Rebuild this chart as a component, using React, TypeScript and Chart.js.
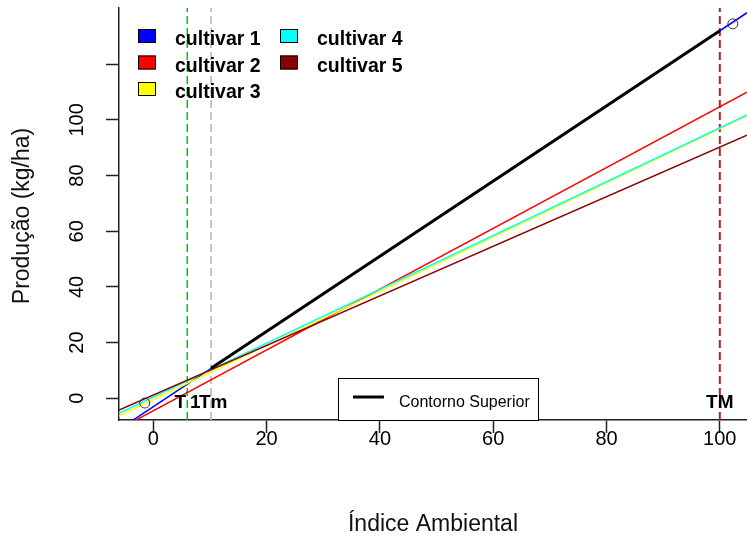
import React, { useEffect, useRef } from "react";
import { Chart, registerables } from "chart.js";

Chart.register(...registerables);

// ---- data ----
const xRange = [-6.05, 104.8];
const yRange = [-7.8, 140.2];
const xTicks = [0, 20, 40, 60, 80, 100];
const xTickLabels = ["0", "20", "40", "60", "80", "100"];
const yTicks = [0, 20, 40, 60, 80, 100, 120];
const yTickLabels = ["0", "20", "40", "60", "80", "100", ""];

const cultivarNames = ["cultivar 1", "cultivar 2", "cultivar 3", "cultivar 4", "cultivar 5"];
const cultivarColors = ["#0000FF", "#FF0000", "#FFFF00", "#00FFFF", "#8B0000"];
// each line given by its values at the two x ends of the plot
const lineX = [-6.05, 104.8];
const cultivar1 = [-11.2, 138.5];
const cultivar2 = [-11.1, 110.0];
const cultivar3 = [-6.4, 101.5];
const cultivar4 = [-5.4, 101.8];
const cultivar5 = [-4.2, 94.5];
const cultivarValues = [cultivar1, cultivar2, cultivar3, cultivar4, cultivar5];

const contornoLabel = "Contorno Superior";
const contornoX = [10.2, 100];
const contornoY = [10.8, 132];

const circleX = [-1.5, 102.3];
const circleY = [-1.7, 134.5];

const vlineX = [6.0, 10.2, 100];
const vlineColors = ["#00C800", "#B4B4B4", "#B22222"];
const vlineWidths = [1.5, 1.5, 2];

const markLabels = ["T", "1", "Tm", "TM"];
const markLabelX = [4.75, 6.48, 8.06, 100];
const markLabelAlign = ["center", "left", "left", "center"];
const markLabelY = -3.5;

const xTitle = "Índice Ambiental";
const yTitle = "Produção (kg/ha)";

const FONT = '"Liberation Sans", Arial, Helvetica, sans-serif';

const customDraw = {
  id: "customDraw",
  afterDatasetsDraw(chart: any) {
    const ctx = chart.ctx;
    const xs = chart.scales.x;
    const ys = chart.scales.y;
    ctx.save();
    ctx.fillStyle = "#000";
    ctx.font = `bold 19px ${FONT}`;
    ctx.textBaseline = "alphabetic";
    markLabels.forEach((t, i) => {
      ctx.textAlign = markLabelAlign[i];
      ctx.fillText(t, xs.getPixelForValue(markLabelX[i]), ys.getPixelForValue(markLabelY));
    });
    ctx.restore();
  },
  afterDraw(chart: any) {
    const ctx = chart.ctx;
    const xs = chart.scales.x;
    const ys = chart.scales.y;
    const a = chart.chartArea;
    ctx.save();
    ctx.fillStyle = "#000";
    // x tick labels
    ctx.font = `20px ${FONT}`;
    ctx.textAlign = "center";
    ctx.textBaseline = "alphabetic";
    xTicks.forEach((v, i) => {
      ctx.fillText(xTickLabels[i], xs.getPixelForValue(v), a.bottom + 25);
    });
    // y tick labels (rotated)
    yTicks.forEach((v, i) => {
      if (!yTickLabels[i]) return;
      ctx.save();
      ctx.translate(a.left - 36, ys.getPixelForValue(v));
      ctx.rotate(-Math.PI / 2);
      ctx.textAlign = "center";
      ctx.fillText(yTickLabels[i], 0, 0);
      ctx.restore();
    });
    // axis titles
    ctx.font = `23px ${FONT}`;
    ctx.fillStyle = "#111";
    ctx.textAlign = "center";
    ctx.fillText(xTitle, (a.left + a.right) / 2, a.bottom + 111);
    ctx.save();
    ctx.translate(a.left - 90, (a.top + a.bottom) / 2 + 2);
    ctx.rotate(-Math.PI / 2);
    ctx.fillText(yTitle, 0, 0);
    ctx.restore();

    // cultivar legend (column-major, 3 rows)
    ctx.font = `bold 19.5px ${FONT}`;
    ctx.textAlign = "left";
    const boxX = [a.left + 19, a.left + 161];
    const textX = [a.left + 56, a.left + 198];
    const rowY = [a.top + 28, a.top + 54.5, a.top + 81];
    cultivarNames.forEach((name, i) => {
      const col = Math.floor(i / 3);
      const row = i % 3;
      const cy = rowY[row];
      ctx.fillStyle = cultivarColors[i];
      ctx.fillRect(boxX[col], cy - 7, 17.5, 14);
      ctx.strokeStyle = "#000";
      ctx.lineWidth = 1;
      ctx.strokeRect(boxX[col] + 0.5, cy - 6.5, 17, 13);
      ctx.fillStyle = "#000";
      ctx.fillText(name, textX[col], cy + 9);
    });

    // contorno legend box
    const bx = xs.getPixelForValue(32.6);
    const bw = 200;
    const bt = a.bottom - 42;
    ctx.fillStyle = "#fff";
    ctx.fillRect(Math.round(bx) + 0.5, bt + 0.5, bw, a.bottom - bt);
    ctx.strokeStyle = "#000";
    ctx.lineWidth = 1;
    ctx.strokeRect(Math.round(bx) + 0.5, bt + 0.5, bw, a.bottom - bt);
    ctx.beginPath();
    ctx.lineWidth = 3;
    ctx.moveTo(bx + 15, bt + 19);
    ctx.lineTo(bx + 46, bt + 19);
    ctx.stroke();
    ctx.fillStyle = "#000";
    ctx.font = `16px ${FONT}`;
    ctx.fillText(contornoLabel, bx + 61, bt + 29);
    ctx.restore();
  },
};

export default function App() {
  const ref = useRef<HTMLCanvasElement>(null);
  useEffect(() => {
    if (!ref.current) return;
    const datasets: any[] = [];
    // upper contour (on top)
    datasets.push({
      label: contornoLabel,
      data: contornoX.map((x, i) => ({ x, y: contornoY[i] })),
      borderColor: "#000",
      borderWidth: 3,
      pointRadius: 0,
      showLine: true,
      order: 0,
    });
    datasets.push({
      label: "pontos",
      data: circleX.map((x, i) => ({ x, y: circleY[i] })),
      borderColor: "#333",
      backgroundColor: "rgba(0,0,0,0)",
      pointRadius: 5,
      pointBorderWidth: 1,
      showLine: false,
      order: 0,
    });
    cultivarNames.forEach((name, i) => {
      datasets.push({
        label: name,
        data: lineX.map((x, j) => ({ x, y: cultivarValues[i][j] })),
        borderColor: cultivarColors[i],
        backgroundColor: cultivarColors[i],
        borderWidth: 1.5,
        pointRadius: 0,
        showLine: true,
        order: 6 - i,
      });
    });
    vlineX.forEach((x, i) => {
      datasets.push({
        label: "v" + i,
        data: [
          { x, y: yRange[0] },
          { x, y: yRange[1] },
        ],
        borderColor: vlineColors[i],
        borderWidth: vlineWidths[i],
        borderDash: [8, 4],
        pointRadius: 0,
        showLine: true,
        order: 10,
      });
    });

    const axisCommon = {
      type: "linear" as const,
      border: { display: true, color: "#222", width: 1.5 },
      grid: {
        display: true,
        drawOnChartArea: false,
        drawTicks: true,
        tickLength: 13,
        tickColor: "#222",
        tickWidth: 1.5,
      },
      ticks: { display: false },
    };

    const chart = new Chart(ref.current, {
      type: "scatter",
      data: { datasets },
      plugins: [customDraw],
      options: {
        animation: false,
        responsive: false,
        devicePixelRatio: 1,
        layout: { autoPadding: false, padding: { top: 8, left: 0, right: 0, bottom: 0 } },
        plugins: { legend: { display: false }, tooltip: { enabled: false } },
        elements: { line: { tension: 0 } },
        scales: {
          x: {
            ...axisCommon,
            position: "bottom",
            min: xRange[0],
            max: xRange[1],
            afterBuildTicks: (s: any) => {
              s.ticks = xTicks.map((v) => ({ value: v }));
            },
            afterFit: (s: any) => {
              s.height = 119;
            },
          },
          y: {
            ...axisCommon,
            position: "left",
            min: yRange[0],
            max: yRange[1],
            afterBuildTicks: (s: any) => {
              s.ticks = yTicks.map((v) => ({ value: v }));
            },
            afterFit: (s: any) => {
              s.width = 119;
            },
          },
        },
      } as any,
    });
    return () => chart.destroy();
  }, []);
  return (
    <div style={{ position: "absolute", left: 0, top: 0, width: 747, height: 539, background: "#fff" }}>
      <canvas ref={ref} width={747} height={539} style={{ display: "block" }} />
    </div>
  );
}
